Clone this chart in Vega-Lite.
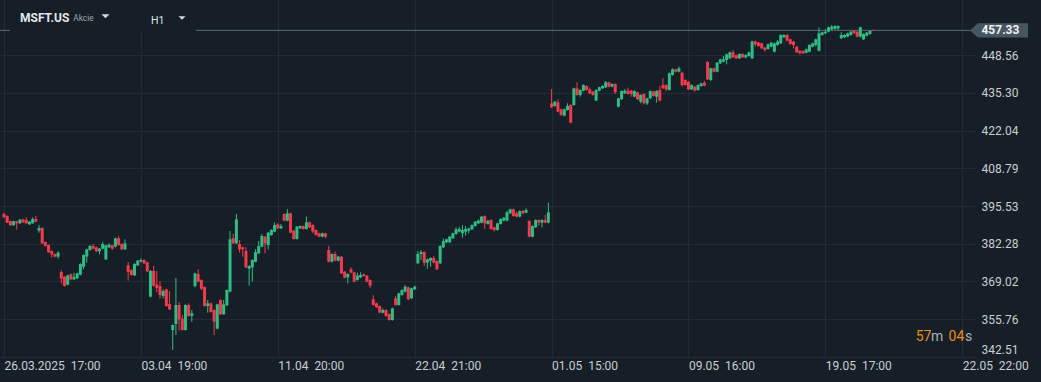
{
"$schema": "https://vega.github.io/schema/vega-lite/v6.json",
"width": 975, "height": 357,
"autosize": {"type": "none"},
"padding": {"left": 0, "top": 0, "right": 66, "bottom": 25},
"background": "#161f27",
"config": {"view": {"stroke": null}, "font": "Roboto"},
"datasets": {
"last": [{"price": 457.33}],
"candles": [
{"i":0,"o":392.72,"h":393.19,"l":391.32,"c":391.55},
{"i":1,"o":392.02,"h":392.26,"l":389.5,"c":389.68},
{"i":2,"o":390.26,"h":390.4,"l":388.6,"c":388.74},
{"i":3,"o":388.74,"h":390.38,"l":388.6,"c":390.15},
{"i":4,"o":390.15,"h":390.3,"l":387.21,"c":389.44},
{"i":5,"o":389.44,"h":390.97,"l":389.3,"c":390.73},
{"i":6,"o":390.85,"h":391.08,"l":389.6,"c":389.79},
{"i":7,"o":390.61,"h":391.55,"l":389.3,"c":389.44},
{"i":8,"o":389.09,"h":390.2,"l":388.9,"c":390.03},
{"i":9,"o":389.44,"h":391.55,"l":389.3,"c":390.97},
{"i":10,"o":390.97,"h":392.02,"l":389.9,"c":390.03},
{"i":11,"o":386.86,"h":388.85,"l":386.16,"c":387.8},
{"i":12,"o":387.8,"h":388.03,"l":382.2,"c":382.4},
{"i":13,"o":382.87,"h":383.0,"l":381.3,"c":381.47},
{"i":14,"o":381.82,"h":382.0,"l":379.1,"c":379.24},
{"i":15,"o":379.71,"h":379.9,"l":377.36,"c":378.53},
{"i":16,"o":378.65,"h":378.8,"l":377.5,"c":377.71},
{"i":17,"o":377.71,"h":379.59,"l":377.01,"c":379.12},
{"i":18,"o":372.32,"h":373.02,"l":368.21,"c":369.97},
{"i":19,"o":370.67,"h":370.91,"l":367.16,"c":367.39},
{"i":20,"o":367.86,"h":371.38,"l":367.63,"c":371.14},
{"i":21,"o":371.5,"h":371.85,"l":369.5,"c":369.74},
{"i":22,"o":369.74,"h":372.08,"l":369.5,"c":370.56},
{"i":23,"o":370.09,"h":372.08,"l":369.85,"c":371.85},
{"i":24,"o":371.38,"h":375.37,"l":371.14,"c":375.13},
{"i":25,"o":374.19,"h":378.53,"l":373.26,"c":378.3},
{"i":26,"o":377.71,"h":380.53,"l":375.6,"c":380.29},
{"i":27,"o":380.06,"h":381.82,"l":379.83,"c":381.47},
{"i":28,"o":381.47,"h":382.17,"l":380.29,"c":380.53},
{"i":29,"o":381.0,"h":381.23,"l":379.36,"c":379.59},
{"i":30,"o":379.59,"h":380.76,"l":378.53,"c":380.53},
{"i":31,"o":380.53,"h":382.87,"l":380.29,"c":382.17},
{"i":32,"o":376.77,"h":381.93,"l":376.54,"c":381.7},
{"i":33,"o":381.0,"h":382.4,"l":380.76,"c":381.93},
{"i":34,"o":381.7,"h":381.93,"l":380.06,"c":380.53},
{"i":35,"o":381.23,"h":384.4,"l":381.0,"c":384.16},
{"i":36,"o":384.16,"h":384.98,"l":381.58,"c":381.82},
{"i":37,"o":382.17,"h":382.4,"l":380.06,"c":380.29},
{"i":38,"o":380.29,"h":383.81,"l":380.06,"c":382.4},
{"i":39,"o":374.66,"h":375.84,"l":369.27,"c":372.32},
{"i":40,"o":373.02,"h":373.26,"l":371.03,"c":371.26},
{"i":41,"o":371.14,"h":375.37,"l":370.91,"c":375.13},
{"i":42,"o":374.66,"h":376.54,"l":374.43,"c":376.3},
{"i":43,"o":375.95,"h":377.13,"l":375.72,"c":376.54},
{"i":44,"o":376.54,"h":376.77,"l":375.13,"c":375.37},
{"i":45,"o":375.72,"h":375.95,"l":372.32,"c":372.55},
{"i":46,"o":363.64,"h":373.02,"l":363.4,"c":372.67},
{"i":47,"o":372.67,"h":374.43,"l":367.16,"c":367.51},
{"i":48,"o":367.86,"h":372.67,"l":365.16,"c":366.69},
{"i":49,"o":367.39,"h":369.15,"l":362.93,"c":364.22},
{"i":50,"o":363.87,"h":366.22,"l":363.05,"c":365.63},
{"i":51,"o":366.22,"h":366.45,"l":360.12,"c":360.35},
{"i":52,"o":361.06,"h":365.63,"l":358.95,"c":359.18},
{"i":53,"o":351.91,"h":353.9,"l":344.87,"c":353.67},
{"i":54,"o":354.02,"h":370.21,"l":350.15,"c":360.7},
{"i":55,"o":360.7,"h":361.76,"l":351.67,"c":355.66},
{"i":56,"o":355.9,"h":357.19,"l":351.7,"c":351.91},
{"i":57,"o":351.91,"h":360.94,"l":351.7,"c":360.7},
{"i":58,"o":360.7,"h":361.29,"l":356.6,"c":356.84},
{"i":59,"o":356.84,"h":358.95,"l":354.84,"c":357.77},
{"i":60,"o":367.39,"h":372.08,"l":366.92,"c":371.85},
{"i":61,"o":371.61,"h":373.26,"l":368.7,"c":368.92},
{"i":62,"o":369.5,"h":369.74,"l":365.98,"c":366.45},
{"i":63,"o":367.04,"h":367.27,"l":360.12,"c":360.35},
{"i":64,"o":360.35,"h":362.46,"l":358.01,"c":361.29},
{"i":65,"o":361.29,"h":361.52,"l":358.0,"c":358.24},
{"i":66,"o":358.95,"h":359.18,"l":350.15,"c":354.84},
{"i":67,"o":352.38,"h":361.17,"l":352.15,"c":360.94},
{"i":68,"o":362.46,"h":362.7,"l":357.19,"c":357.42},
{"i":69,"o":357.42,"h":362.46,"l":357.19,"c":360.94},
{"i":70,"o":360.59,"h":366.22,"l":360.35,"c":365.98},
{"i":71,"o":365.4,"h":386.74,"l":365.17,"c":383.81},
{"i":72,"o":384.16,"h":385.69,"l":382.17,"c":382.4},
{"i":73,"o":382.4,"h":392.72,"l":382.17,"c":390.85},
{"i":74,"o":382.17,"h":383.58,"l":379.12,"c":380.29},
{"i":75,"o":381.0,"h":381.23,"l":377.71,"c":380.29},
{"i":76,"o":379.71,"h":381.0,"l":373.73,"c":373.96},
{"i":77,"o":373.49,"h":374.66,"l":367.51,"c":374.43},
{"i":78,"o":373.96,"h":376.77,"l":368.92,"c":376.54},
{"i":79,"o":375.95,"h":380.29,"l":375.72,"c":379.24},
{"i":80,"o":378.88,"h":383.22,"l":378.65,"c":381.47},
{"i":81,"o":381.23,"h":385.69,"l":381.0,"c":384.98},
{"i":82,"o":384.75,"h":384.98,"l":378.88,"c":382.4},
{"i":83,"o":381.82,"h":386.39,"l":380.29,"c":386.16},
{"i":84,"o":385.34,"h":387.33,"l":385.1,"c":387.1},
{"i":85,"o":386.51,"h":389.79,"l":386.28,"c":388.85},
{"i":86,"o":389.09,"h":389.44,"l":387.45,"c":387.68},
{"i":87,"o":387.68,"h":389.21,"l":387.45,"c":388.5},
{"i":88,"o":392.72,"h":392.96,"l":390.15,"c":390.38},
{"i":89,"o":390.38,"h":394.48,"l":390.15,"c":392.96},
{"i":90,"o":392.96,"h":393.19,"l":385.92,"c":386.16},
{"i":91,"o":386.86,"h":387.1,"l":383.7,"c":383.93},
{"i":92,"o":383.93,"h":388.5,"l":383.7,"c":388.27},
{"i":93,"o":387.68,"h":388.73,"l":387.45,"c":388.5},
{"i":94,"o":388.5,"h":388.73,"l":387.21,"c":387.45},
{"i":95,"o":387.45,"h":391.79,"l":387.21,"c":389.79},
{"i":96,"o":389.79,"h":390.03,"l":387.8,"c":388.03},
{"i":97,"o":388.85,"h":389.09,"l":385.92,"c":386.51},
{"i":98,"o":387.1,"h":387.33,"l":385.1,"c":385.34},
{"i":99,"o":385.92,"h":386.16,"l":384.51,"c":384.75},
{"i":100,"o":384.75,"h":386.16,"l":384.51,"c":385.92},
{"i":101,"o":385.92,"h":386.16,"l":384.16,"c":384.75},
{"i":102,"o":380.06,"h":381.47,"l":375.72,"c":375.95},
{"i":103,"o":375.95,"h":378.88,"l":375.72,"c":378.65},
{"i":104,"o":378.65,"h":379.47,"l":376.07,"c":376.3},
{"i":105,"o":376.3,"h":377.95,"l":376.07,"c":377.71},
{"i":106,"o":377.71,"h":377.95,"l":371.61,"c":371.85},
{"i":107,"o":372.43,"h":372.67,"l":370.09,"c":370.32},
{"i":108,"o":370.44,"h":371.85,"l":368.33,"c":371.61},
{"i":109,"o":373.26,"h":373.96,"l":371.85,"c":372.08},
{"i":110,"o":372.2,"h":372.43,"l":368.68,"c":368.92},
{"i":111,"o":369.5,"h":372.08,"l":369.27,"c":371.03},
{"i":112,"o":370.44,"h":372.2,"l":370.21,"c":371.26},
{"i":113,"o":371.5,"h":371.73,"l":370.68,"c":370.91},
{"i":114,"o":371.03,"h":371.26,"l":368.68,"c":368.92},
{"i":115,"o":369.5,"h":369.74,"l":366.8,"c":367.51},
{"i":116,"o":362.7,"h":364.11,"l":360.47,"c":360.7},
{"i":117,"o":361.29,"h":361.52,"l":359.65,"c":359.88},
{"i":118,"o":360.35,"h":360.59,"l":357.77,"c":358.01},
{"i":119,"o":358.01,"h":359.53,"l":357.77,"c":358.95},
{"i":120,"o":358.95,"h":359.18,"l":356.6,"c":356.84},
{"i":121,"o":357.54,"h":357.77,"l":355.2,"c":355.43},
{"i":122,"o":355.43,"h":359.77,"l":355.2,"c":359.53},
{"i":123,"o":363.05,"h":363.87,"l":360.47,"c":360.7},
{"i":124,"o":360.7,"h":365.05,"l":360.47,"c":364.81},
{"i":125,"o":364.22,"h":366.22,"l":363.99,"c":365.98},
{"i":126,"o":365.4,"h":367.74,"l":365.17,"c":367.16},
{"i":127,"o":366.92,"h":367.16,"l":362.46,"c":362.7},
{"i":128,"o":363.05,"h":366.8,"l":362.82,"c":366.57},
{"i":129,"o":366.22,"h":367.51,"l":365.98,"c":367.16},
{"i":130,"o":375.37,"h":379.71,"l":375.13,"c":378.65},
{"i":131,"o":378.65,"h":380.06,"l":376.54,"c":379.35},
{"i":132,"o":379.35,"h":379.59,"l":374.43,"c":375.6},
{"i":133,"o":375.6,"h":377.0,"l":373.49,"c":376.77},
{"i":134,"o":376.3,"h":377.47,"l":374.19,"c":377.24},
{"i":135,"o":377.24,"h":377.95,"l":375.37,"c":375.6},
{"i":136,"o":376.19,"h":376.42,"l":373.02,"c":373.26},
{"i":137,"o":375.37,"h":381.7,"l":375.13,"c":381.47},
{"i":138,"o":381.0,"h":384.16,"l":380.76,"c":383.22},
{"i":139,"o":382.75,"h":384.04,"l":382.52,"c":383.81},
{"i":140,"o":382.75,"h":384.98,"l":382.52,"c":384.75},
{"i":141,"o":384.16,"h":386.16,"l":383.93,"c":385.92},
{"i":142,"o":385.69,"h":388.03,"l":385.45,"c":387.33},
{"i":143,"o":386.51,"h":388.27,"l":386.28,"c":387.45},
{"i":144,"o":385.92,"h":388.85,"l":384.4,"c":387.1},
{"i":145,"o":386.51,"h":388.5,"l":385.1,"c":387.45},
{"i":146,"o":386.86,"h":387.91,"l":385.92,"c":387.68},
{"i":147,"o":387.33,"h":389.09,"l":387.1,"c":388.85},
{"i":148,"o":388.5,"h":390.26,"l":388.27,"c":390.03},
{"i":149,"o":389.44,"h":390.85,"l":389.21,"c":390.38},
{"i":150,"o":389.68,"h":392.02,"l":389.44,"c":391.79},
{"i":151,"o":392.02,"h":392.26,"l":387.45,"c":389.44},
{"i":152,"o":389.21,"h":390.61,"l":388.97,"c":390.38},
{"i":153,"o":390.61,"h":390.85,"l":387.21,"c":387.45},
{"i":154,"o":388.03,"h":388.27,"l":386.51,"c":387.1},
{"i":155,"o":387.1,"h":389.68,"l":386.86,"c":389.44},
{"i":156,"o":389.21,"h":391.2,"l":388.97,"c":390.97},
{"i":157,"o":390.38,"h":391.67,"l":390.15,"c":391.44},
{"i":158,"o":390.38,"h":393.9,"l":390.15,"c":393.31},
{"i":159,"o":392.96,"h":394.6,"l":392.72,"c":394.37},
{"i":160,"o":394.37,"h":394.6,"l":391.79,"c":392.02},
{"i":161,"o":392.96,"h":393.55,"l":391.55,"c":391.79},
{"i":162,"o":391.79,"h":394.01,"l":391.55,"c":393.78},
{"i":163,"o":393.78,"h":394.13,"l":392.72,"c":392.96},
{"i":164,"o":393.19,"h":394.72,"l":392.96,"c":394.13},
{"i":165,"o":390.26,"h":390.5,"l":384.51,"c":384.75},
{"i":166,"o":384.75,"h":388.73,"l":384.51,"c":388.5},
{"i":167,"o":388.03,"h":390.85,"l":387.8,"c":390.61},
{"i":168,"o":390.61,"h":390.85,"l":388.62,"c":389.68},
{"i":169,"o":389.68,"h":390.85,"l":388.03,"c":390.61},
{"i":170,"o":390.61,"h":392.37,"l":389.44,"c":389.68},
{"i":171,"o":389.68,"h":396.71,"l":389.44,"c":393.31},
{"i":172,"o":431.66,"h":436.7,"l":430.02,"c":430.25},
{"i":173,"o":430.72,"h":432.48,"l":430.49,"c":432.25},
{"i":174,"o":432.01,"h":433.07,"l":428.5,"c":428.73},
{"i":175,"o":429.55,"h":429.78,"l":427.32,"c":427.56},
{"i":176,"o":427.32,"h":429.78,"l":427.09,"c":429.55},
{"i":177,"o":429.32,"h":431.66,"l":429.09,"c":430.72},
{"i":178,"o":431.08,"h":431.31,"l":424.63,"c":424.86},
{"i":179,"o":431.08,"h":437.17,"l":430.84,"c":436.94},
{"i":180,"o":436.94,"h":439.05,"l":434.36,"c":434.59},
{"i":181,"o":434.59,"h":436.59,"l":434.01,"c":436.35},
{"i":182,"o":436.12,"h":438.34,"l":435.89,"c":438.11},
{"i":183,"o":437.76,"h":437.99,"l":436.12,"c":436.35},
{"i":184,"o":436.59,"h":437.17,"l":434.94,"c":435.18},
{"i":185,"o":435.77,"h":436.0,"l":434.36,"c":434.59},
{"i":186,"o":432.6,"h":436.59,"l":432.48,"c":436.35},
{"i":187,"o":436.12,"h":437.52,"l":435.89,"c":437.29},
{"i":188,"o":436.94,"h":437.99,"l":436.7,"c":437.76},
{"i":189,"o":437.29,"h":439.52,"l":437.06,"c":439.05},
{"i":190,"o":439.05,"h":439.28,"l":437.29,"c":437.53},
{"i":191,"o":437.53,"h":438.69,"l":437.29,"c":438.46},
{"i":192,"o":438.46,"h":438.69,"l":434.94,"c":435.53},
{"i":193,"o":430.49,"h":433.65,"l":430.25,"c":433.42},
{"i":194,"o":433.07,"h":436.23,"l":432.84,"c":436.0},
{"i":195,"o":435.18,"h":436.7,"l":434.94,"c":436.12},
{"i":196,"o":436.12,"h":437.17,"l":434.71,"c":434.94},
{"i":197,"o":436.12,"h":436.35,"l":434.01,"c":434.94},
{"i":198,"o":434.01,"h":436.23,"l":433.78,"c":436.0},
{"i":199,"o":435.53,"h":435.77,"l":432.84,"c":433.07},
{"i":200,"o":432.25,"h":434.82,"l":431.66,"c":434.59},
{"i":201,"o":434.94,"h":435.18,"l":431.31,"c":431.66},
{"i":202,"o":431.66,"h":433.65,"l":431.08,"c":433.42},
{"i":203,"o":433.42,"h":436.23,"l":433.19,"c":436.0},
{"i":204,"o":435.77,"h":436.12,"l":434.01,"c":434.24},
{"i":205,"o":434.01,"h":436.23,"l":431.9,"c":436.0},
{"i":206,"o":436.35,"h":437.76,"l":432.37,"c":432.6},
{"i":207,"o":438.11,"h":440.46,"l":436.7,"c":436.94},
{"i":208,"o":438.11,"h":438.34,"l":436.0,"c":436.59},
{"i":209,"o":436.35,"h":442.45,"l":436.12,"c":442.21},
{"i":210,"o":441.63,"h":443.97,"l":441.4,"c":443.62},
{"i":211,"o":443.62,"h":443.85,"l":442.57,"c":442.8},
{"i":212,"o":442.8,"h":444.56,"l":442.57,"c":443.97},
{"i":213,"o":442.45,"h":442.8,"l":437.52,"c":438.11},
{"i":214,"o":439.87,"h":440.1,"l":437.87,"c":438.11},
{"i":215,"o":439.28,"h":439.52,"l":436.35,"c":436.58},
{"i":216,"o":436.58,"h":438.34,"l":436.35,"c":438.11},
{"i":217,"o":437.52,"h":437.76,"l":435.87,"c":436.11},
{"i":218,"o":436.35,"h":438.34,"l":436.11,"c":438.11},
{"i":219,"o":437.76,"h":438.93,"l":437.52,"c":438.69},
{"i":220,"o":438.93,"h":439.52,"l":437.64,"c":437.87},
{"i":221,"o":446.2,"h":446.44,"l":439.87,"c":440.1},
{"i":222,"o":439.87,"h":444.21,"l":439.52,"c":443.97},
{"i":223,"o":443.97,"h":444.21,"l":442.57,"c":442.8},
{"i":224,"o":442.8,"h":446.2,"l":442.57,"c":445.97},
{"i":225,"o":445.73,"h":447.38,"l":445.5,"c":447.14},
{"i":226,"o":446.32,"h":448.31,"l":446.09,"c":447.14},
{"i":227,"o":446.91,"h":449.14,"l":445.38,"c":448.9},
{"i":228,"o":447.49,"h":449.84,"l":447.26,"c":449.6},
{"i":229,"o":449.6,"h":450.42,"l":447.61,"c":447.84},
{"i":230,"o":448.55,"h":448.78,"l":447.26,"c":447.49},
{"i":231,"o":447.49,"h":449.25,"l":447.26,"c":449.02},
{"i":232,"o":449.02,"h":449.25,"l":447.61,"c":447.84},
{"i":233,"o":447.84,"h":448.9,"l":447.49,"c":448.66},
{"i":234,"o":448.31,"h":449.84,"l":448.08,"c":449.6},
{"i":235,"o":447.49,"h":453.71,"l":447.26,"c":453.47},
{"i":236,"o":453.47,"h":453.71,"l":451.6,"c":452.42},
{"i":237,"o":453.0,"h":453.24,"l":451.6,"c":451.83},
{"i":238,"o":452.77,"h":453.0,"l":450.78,"c":451.01},
{"i":239,"o":451.25,"h":451.48,"l":449.84,"c":450.42},
{"i":240,"o":450.78,"h":452.66,"l":450.54,"c":452.42},
{"i":241,"o":451.6,"h":453.24,"l":451.36,"c":453.0},
{"i":242,"o":449.84,"h":453.0,"l":449.6,"c":452.77},
{"i":243,"o":452.18,"h":453.94,"l":451.95,"c":453.36},
{"i":244,"o":452.77,"h":455.94,"l":452.54,"c":455.7},
{"i":245,"o":454.88,"h":455.94,"l":454.65,"c":455.7},
{"i":246,"o":455.7,"h":456.05,"l":453.47,"c":453.71},
{"i":247,"o":454.18,"h":454.42,"l":452.31,"c":452.54},
{"i":248,"o":453.36,"h":453.59,"l":451.01,"c":452.18},
{"i":249,"o":451.6,"h":451.83,"l":449.37,"c":449.6},
{"i":250,"o":450.19,"h":450.42,"l":448.9,"c":449.25},
{"i":251,"o":450.07,"h":450.31,"l":449.02,"c":449.25},
{"i":252,"o":449.49,"h":450.89,"l":449.25,"c":450.66},
{"i":253,"o":449.84,"h":452.42,"l":449.6,"c":452.18},
{"i":254,"o":451.6,"h":453.0,"l":451.36,"c":452.77},
{"i":255,"o":452.18,"h":454.42,"l":451.6,"c":454.18},
{"i":256,"o":450.19,"h":458.4,"l":449.96,"c":456.29},
{"i":257,"o":455.7,"h":456.87,"l":455.47,"c":456.64},
{"i":258,"o":456.29,"h":457.7,"l":456.05,"c":456.87},
{"i":259,"o":456.87,"h":458.63,"l":456.64,"c":458.4},
{"i":260,"o":457.7,"h":459.22,"l":457.46,"c":458.63},
{"i":261,"o":457.81,"h":459.1,"l":457.58,"c":458.87},
{"i":262,"o":458.05,"h":459.1,"l":457.46,"c":458.87},
{"i":263,"o":454.53,"h":456.64,"l":454.3,"c":455.7},
{"i":264,"o":454.88,"h":455.94,"l":454.65,"c":455.7},
{"i":265,"o":455.12,"h":456.52,"l":454.88,"c":456.29},
{"i":266,"o":455.7,"h":457.11,"l":455.47,"c":456.87},
{"i":267,"o":457.11,"h":457.46,"l":456.05,"c":456.29},
{"i":268,"o":456.87,"h":457.11,"l":454.88,"c":455.12},
{"i":269,"o":455.12,"h":458.63,"l":454.88,"c":458.4},
{"i":270,"o":454.18,"h":456.29,"l":453.94,"c":456.05},
{"i":271,"o":455.47,"h":456.75,"l":455.24,"c":456.52},
{"i":272,"o":456.05,"h":457.34,"l":455.82,"c":457.11},
{"i":273,"o":457.46,"h":457.58,"l":457.11,"c":457.33}
]
},
"layer": [
{
"data": {"name": "last"},
"mark": {"type": "rule", "color": "#5c6873", "strokeWidth": 1},
"encoding": {
"y": {"field": "price", "type": "quantitative", "title": null,
"scale": {"domain": [342.41, 468.02], "nice": false, "zero": false, "padding": 0},
"axis": {"orient": "right", "values": [342.51, 355.76, 369.02, 382.28, 395.53, 408.79, 422.04, 435.3, 448.56], "format": ".2f", "labelColor": "#c9ced3", "labelFont": "Roboto", "labelFontSize": 12, "labelPadding": 6, "ticks": false, "domain": false, "grid": true, "gridColor": "#232c35", "gridWidth": 1, "labelFlush": 3, "labelOverlap": false, "labelAlign": "left", "title": null}}
}
},
{
"data": {"name": "candles"},
"mark": {"type": "rule", "strokeWidth": 1},
"encoding": {
"x": {"field": "i", "type": "quantitative", "title": null,
"scale": {"domain": [-1.2565, 305.01], "nice": false, "zero": false, "padding": 0},
"axis": {"values": [0, 43, 86, 129, 172, 215, 258, 301], "labelExpr": "['26.03.2025\u00a0\u00a017:00','03.04\u00a0\u00a019:00','11.04\u00a0\u00a020:00','22.04\u00a0\u00a021:00','01.05\u00a0\u00a015:00','09.05\u00a0\u00a016:00','19.05\u00a0\u00a017:00','22.05\u00a0\u00a022:00'][round(datum.value/43)]", "labelAlign": "left", "labelFlush": false, "labelOverlap": false, "labelBound": false, "labelColor": "#c9ced3", "labelFont": "Roboto", "labelFontSize": 12, "labelPadding": 3, "ticks": false, "domain": false, "grid": true, "gridColor": "#232c35", "gridWidth": 1, "title": null}},
"y": {"field": "l", "type": "quantitative", "title": null},
"y2": {"field": "h"},
"color": {"condition": {"test": "datum.c >= datum.o", "value": "#2ebd85"}, "value": "#f23a4c"}
}
},
{
"data": {"name": "candles"},
"mark": {"type": "bar", "width": 3},
"encoding": {
"x": {"field": "i", "type": "quantitative", "title": null},
"y": {"field": "o", "type": "quantitative", "title": null},
"y2": {"field": "c"},
"color": {"condition": {"test": "datum.c >= datum.o", "value": "#2ebd85"}, "value": "#f23a4c"}
}
},
{
"data": {"values": [{"box": "header"}]},
"mark": {"type": "rect", "color": "#161f27"},
"encoding": {"x": {"datum": 1.9}, "x2": {"datum": 60.3}, "y": {"datum": 456.9}, "y2": {"datum": 468.02}}
},
{
"data": {"values": [{"t": "MSFT.US"}]},
"mark": {"type": "text", "align": "left", "baseline": "middle", "fontSize": 12, "fontWeight": "bold", "font": "Roboto", "color": "#e3e7ea"},
"encoding": {"x": {"datum": 5.03}, "y": {"datum": 461.58}, "text": {"field": "t"}}
},
{
"data": {"values": [{"t": "Akcie"}]},
"mark": {"type": "text", "align": "left", "baseline": "middle", "fontSize": 8.3, "font": "Roboto", "color": "#9ba5ae"},
"encoding": {"x": {"datum": 21.77}, "y": {"datum": 461.26}, "text": {"field": "t"}}
},
{
"data": {"values": [{"t": "H1"}]},
"mark": {"type": "text", "align": "left", "baseline": "middle", "fontSize": 10.5, "font": "Roboto", "color": "#dfe3e7"},
"encoding": {"x": {"datum": 46.18}, "y": {"datum": 460.74}, "text": {"field": "t"}}
},
{
"data": {"values": [{"menu": "symbol"}]},
"mark": {"type": "point", "shape": "M -1 -0.5 L 1 -0.5 L 0 0.5 Z", "size": 64, "filled": true, "color": "#d5dade", "opacity": 1},
"encoding": {"x": {"datum": 31.88}, "y": {"datum": 462.28}}
},
{
"data": {"values": [{"menu": "interval"}]},
"mark": {"type": "point", "shape": "M -1 -0.5 L 1 -0.5 L 0 0.5 Z", "size": 49, "filled": true, "color": "#d5dade", "opacity": 1},
"encoding": {"x": {"datum": 55.91}, "y": {"datum": 461.69}}
},
{
"data": {"name": "last"},
"mark": {"type": "point", "shape": "M -1 0 L -0.73 -0.247 L 1 -0.247 L 1 0.247 L -0.73 0.247 Z", "size": 3364, "filled": true, "color": "#485661", "opacity": 1, "strokeWidth": 0},
"encoding": {"x": {"datum": 312.55}, "y": {"field": "price", "type": "quantitative", "title": null}}
},
{
"data": {"name": "last"},
"mark": {"type": "text", "align": "center", "baseline": "middle", "fontSize": 12, "font": "Roboto", "fontWeight": "bold", "color": "#eef1f3"},
"encoding": {"x": {"datum": 313.0}, "y": {"field": "price", "type": "quantitative", "title": null}, "text": {"field": "price", "type": "quantitative", "format": ".2f"}}
},
{
"data": {"values": [{"t": "57"}]},
"mark": {"type": "text", "align": "left", "baseline": "middle", "fontSize": 14, "font": "Roboto", "color": "#ec8d14"},
"encoding": {"x": {"datum": 286.4}, "y": {"datum": 349.55}, "text": {"field": "t"}}
},
{
"data": {"values": [{"t": "m"}]},
"mark": {"type": "text", "align": "left", "baseline": "middle", "fontSize": 14, "font": "Roboto", "color": "#a9b1b8"},
"encoding": {"x": {"datum": 291.2}, "y": {"datum": 349.55}, "text": {"field": "t"}}
},
{
"data": {"values": [{"t": "04"}]},
"mark": {"type": "text", "align": "left", "baseline": "middle", "fontSize": 14, "font": "Roboto", "color": "#ec8d14"},
"encoding": {"x": {"datum": 296.7}, "y": {"datum": 349.55}, "text": {"field": "t"}}
},
{
"data": {"values": [{"t": "s"}]},
"mark": {"type": "text", "align": "left", "baseline": "middle", "fontSize": 14, "font": "Roboto", "color": "#a9b1b8"},
"encoding": {"x": {"datum": 301.9}, "y": {"datum": 349.55}, "text": {"field": "t"}}
}
]
}
